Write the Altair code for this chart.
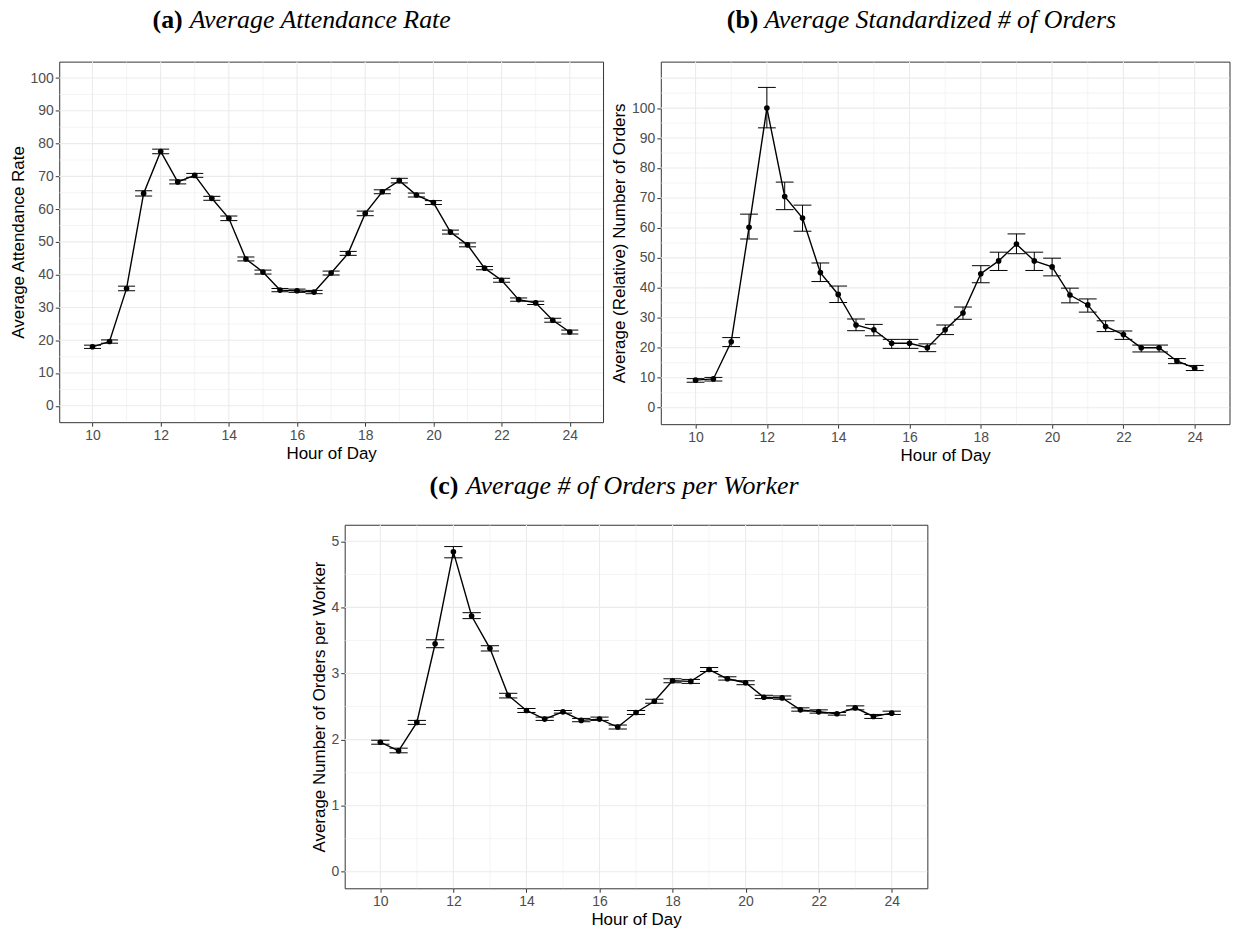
import altair as alt
import pandas as pd

# ---------------- data ----------------
hours = [10, 10.5, 11, 11.5, 12, 12.5, 13, 13.5, 14, 14.5, 15, 15.5, 16, 16.5, 17,
         17.5, 18, 18.5, 19, 19.5, 20, 20.5, 21, 21.5, 22, 22.5, 23, 23.5, 24]

att_mean = [18.0, 19.6, 35.8, 64.8, 77.6, 68.3, 70.3, 63.3, 57.2, 44.8, 40.8, 35.3, 35.1, 34.7, 40.5,
            46.5, 58.7, 65.3, 68.7, 64.3, 62.0, 53.0, 49.1, 42.0, 38.3, 32.4, 31.4, 26.1, 22.5]
att_lo = [17.5, 19.1, 35.1, 64.0, 76.9, 67.7, 69.7, 62.7, 56.5, 44.2, 40.2, 34.8, 34.6, 34.2, 39.9,
          45.9, 58.0, 64.7, 68.0, 63.7, 61.4, 52.4, 48.5, 41.5, 37.7, 31.9, 30.9, 25.5, 21.9]
att_hi = [18.5, 20.1, 36.5, 65.6, 78.3, 68.9, 70.9, 63.9, 57.9, 45.4, 41.4, 35.8, 35.6, 35.2, 41.1,
          47.1, 59.4, 65.9, 69.4, 64.9, 62.6, 53.6, 49.7, 42.5, 38.9, 32.9, 31.9, 26.7, 23.1]

ord_mean = [9.2, 9.6, 22.0, 60.2, 100.0, 70.5, 63.3, 45.1, 37.8, 27.6, 26.0, 21.5, 21.5, 20.0, 26.0,
            31.6, 44.7, 49.0, 54.6, 49.0, 47.0, 37.6, 34.3, 27.1, 24.4, 20.0, 20.0, 15.6, 13.2]
ord_lo = [8.5, 8.9, 20.4, 56.3, 93.4, 66.1, 58.9, 42.1, 35.1, 25.7, 24.0, 19.8, 19.8, 18.7, 24.4,
          29.5, 41.7, 45.8, 51.4, 45.8, 44.0, 35.0, 31.9, 25.4, 22.8, 18.6, 18.6, 14.7, 12.4]
ord_hi = [9.7, 10.1, 23.4, 64.6, 106.9, 75.3, 67.6, 48.3, 40.6, 29.6, 27.8, 22.8, 22.8, 21.3, 27.6,
          33.6, 47.4, 51.9, 58.0, 51.9, 49.9, 39.9, 36.3, 29.0, 25.6, 20.9, 20.9, 16.4, 14.1]

opw_mean = [1.96, 1.83, 2.26, 3.45, 4.84, 3.87, 3.38, 2.67, 2.44, 2.31, 2.42, 2.29, 2.31, 2.19, 2.41,
            2.58, 2.89, 2.88, 3.06, 2.92, 2.86, 2.64, 2.63, 2.45, 2.42, 2.39, 2.48, 2.35, 2.40]
opw_lo = [1.93, 1.80, 2.23, 3.39, 4.75, 3.83, 3.34, 2.63, 2.41, 2.29, 2.40, 2.27, 2.29, 2.16, 2.38,
          2.55, 2.86, 2.85, 3.03, 2.90, 2.83, 2.62, 2.61, 2.43, 2.40, 2.37, 2.45, 2.32, 2.38]
opw_hi = [1.99, 1.87, 2.29, 3.51, 4.92, 3.92, 3.42, 2.70, 2.47, 2.34, 2.44, 2.32, 2.34, 2.22, 2.44,
          2.61, 2.92, 2.91, 3.09, 2.95, 2.89, 2.67, 2.66, 2.48, 2.45, 2.41, 2.51, 2.38, 2.43]

x_ticks = [10, 12, 14, 16, 18, 20, 22, 24]
x_minor = [11, 13, 15, 17, 19, 21, 23]

a_ticks = [0, 10, 20, 30, 40, 50, 60, 70, 80, 90, 100]
a_minor = [5, 15, 25, 35, 45, 55, 65, 75, 85, 95]
b_ticks = [0, 10, 20, 30, 40, 50, 60, 70, 80, 90, 100]
b_grid = [0, 10, 20, 30, 40, 50, 60, 70, 80, 90, 100, 110]
b_minor = [5, 15, 25, 35, 45, 55, 65, 75, 85, 95, 105]
c_ticks = [0, 1, 2, 3, 4, 5]
c_minor = [0.5, 1.5, 2.5, 3.5, 4.5]

x_title = "Hour of Day"
titles = {
    "a": ("(a)", "Average Attendance Rate", "Average Attendance Rate"),
    "b": ("(b)", "Average Standardized # of Orders", "Average (Relative) Number of Orders"),
    "c": ("(c)", "Average # of Orders per Worker", "Average Number of Orders per Worker"),
}

X_DOMAIN = [9.025, 24.975]
CAP_HALF = 0.25
GRID = "#ebebeb"


def panel(key, mean, lo, hi, y_domain, y_ticks, y_grid, y_minor, w, h, tag_x, title_x, title_y,
          extra_right=0):
    tag, ttl, ytitle = titles[key]
    df = pd.DataFrame({"hour": hours, "value": mean, "lo": lo, "hi": hi})
    xscale = alt.Scale(domain=X_DOMAIN, nice=False, zero=False)
    yscale = alt.Scale(domain=y_domain, nice=False, zero=False)
    xaxis = alt.Axis(values=x_ticks, title=x_title, grid=False, format="d")
    yaxis = alt.Axis(values=y_ticks, title=ytitle, grid=False, format="d")

    def X(f):
        return alt.X(f, type="quantitative", scale=xscale, axis=xaxis)

    def Y(f):
        return alt.Y(f, type="quantitative", scale=yscale, axis=yaxis)

    gxM = alt.Chart(pd.DataFrame({"hour": x_ticks})).mark_rule(color=GRID, strokeWidth=1.1).encode(x=X("hour"))
    gxm = alt.Chart(pd.DataFrame({"hour": x_minor})).mark_rule(color=GRID, strokeWidth=0.55).encode(x=X("hour"))
    gyM = alt.Chart(pd.DataFrame({"value": y_grid})).mark_rule(color=GRID, strokeWidth=1.1).encode(y=Y("value"))
    gym = alt.Chart(pd.DataFrame({"value": y_minor})).mark_rule(color=GRID, strokeWidth=0.55).encode(y=Y("value"))

    base = alt.Chart(df)
    err = base.mark_rule(color="black", strokeWidth=1).encode(x=X("hour"), y=Y("lo"), y2="hi:Q")
    capped = base.transform_calculate(xl=f"datum.hour - {CAP_HALF}", xr=f"datum.hour + {CAP_HALF}")
    cap_lo = capped.mark_rule(color="black", strokeWidth=1).encode(x=X("xl"), x2="xr:Q", y=Y("lo"))
    cap_hi = capped.mark_rule(color="black", strokeWidth=1).encode(x=X("xl"), x2="xr:Q", y=Y("hi"))
    line = base.mark_line(color="black", strokeWidth=1.4).encode(x=X("hour"), y=Y("value"))
    pts = base.mark_circle(color="black", size=32, opacity=1).encode(x=X("hour"), y=Y("value"))

    tdf = pd.DataFrame({"tag": [tag], "ttl": [ttl]})
    t1 = alt.Chart(tdf).mark_text(font="Liberation Serif", fontSize=26, fontWeight="bold",
                                  align="right", baseline="middle", color="black").encode(
        x=alt.value(tag_x), y=alt.value(title_y), text="tag:N")
    t2 = alt.Chart(tdf).mark_text(font="Liberation Serif", fontSize=26, fontStyle="italic",
                                  align="left", baseline="middle", color="black").encode(
        x=alt.value(title_x), y=alt.value(title_y), text="ttl:N")
    layers = [gxm, gym, gxM, gyM, err, cap_lo, cap_hi, line, pts, t1, t2]
    if extra_right:
        # invisible spacer so the centred panel sits where the reference has it
        sp = alt.Chart(tdf).mark_text(text="|", fontSize=10, opacity=0).encode(
            x=alt.value(w + extra_right), y=alt.value(h / 2))
        layers.append(sp)
    return alt.layer(*layers).properties(width=w, height=h)


pa = panel("a", att_mean, att_lo, att_hi, [-5, 105], a_ticks, a_ticks, a_minor,
           546, 362, 124, 131, -42)
pb = panel("b", ord_mean, ord_lo, ord_hi, [-5.5, 115.5], b_ticks, b_grid, b_minor,
           571, 364, 98, 104, -42)
pc = panel("c", opw_mean, opw_lo, opw_hi, [-0.25, 5.25], c_ticks, c_ticks, c_minor,
           585, 365, 114, 122, -39, extra_right=16)

top = alt.hconcat(pa, pb, spacing=5)
chart = alt.vconcat(top, pc, spacing=8, center=True).properties(
    padding={"left": 8, "top": 4, "right": 4, "bottom": 4}
).configure_view(
    stroke="#333333", strokeWidth=1
).configure_axis(
    domain=False,
    ticks=True, tickColor="#333333", tickSize=4, tickWidth=1,
    labelFont="Liberation Sans", labelFontSize=14, labelColor="#4d4d4d", labelPadding=2,
    labelOverlap=False, labelFlush=False,
    titleFont="Liberation Sans", titleFontSize=17, titleFontWeight="normal", titleColor="black",
    titlePadding=3,
)

chart.save("out.html", embed_options={"renderer": "svg", "actions": False})
